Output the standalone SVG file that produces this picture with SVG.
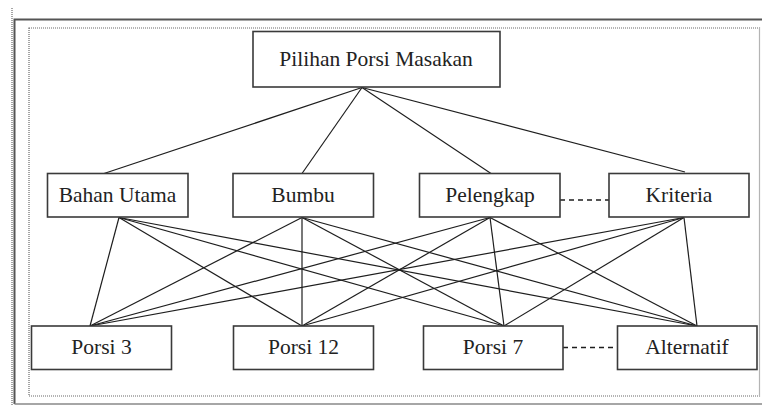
<svg xmlns="http://www.w3.org/2000/svg" width="762" height="405" viewBox="0 0 762 405">
  <style>
    .box { fill: #ffffff; stroke: #3a3a3a; stroke-width: 1.6; }
    .lbl { font-size: 21.5px; fill: #222; text-anchor: middle; }
    .edge { stroke: #1e1e1e; stroke-width: 1.2; fill: none; }
    .dash { stroke: #1e1e1e; stroke-width: 1.4; stroke-dasharray: 5 4; fill: none; }
    .dot { stroke: #6a6a6a; stroke-width: 1.2; stroke-dasharray: 1 1; fill: none; }
  </style>
  <rect x="0" y="0" width="762" height="405" fill="#ffffff"/>
  <g id="frame">
    <line class="dot" x1="12" y1="8" x2="12" y2="405"/>
    <polyline points="762,19.5 14.5,19.5 14.5,404" fill="none" stroke="#555" stroke-width="2"/>
    <line x1="14.5" y1="404" x2="762" y2="404" stroke="#888" stroke-width="1.5"/>
    <rect class="dot" x="29" y="28" width="730.5" height="368"/>
  </g>
  <g id="connectors">
    <line class="edge" x1="362" y1="87.5" x2="104" y2="173.5"/>
    <line class="edge" x1="362" y1="87.5" x2="302" y2="173.5"/>
    <line class="edge" x1="362" y1="87.5" x2="491" y2="173.5"/>
    <line class="edge" x1="362" y1="87.5" x2="685" y2="172"/>

    <line class="edge" x1="119" y1="217.5" x2="90" y2="326"/>
    <line class="edge" x1="119" y1="217.5" x2="302" y2="326"/>
    <line class="edge" x1="119" y1="217.5" x2="504" y2="326"/>
    <line class="edge" x1="119" y1="217.5" x2="697" y2="326"/>

    <line class="edge" x1="302" y1="217.5" x2="90" y2="326"/>
    <line class="edge" x1="302" y1="217.5" x2="302" y2="326"/>
    <line class="edge" x1="302" y1="217.5" x2="504" y2="326"/>
    <line class="edge" x1="302" y1="217.5" x2="697" y2="326"/>

    <line class="edge" x1="490" y1="217.5" x2="90" y2="326"/>
    <line class="edge" x1="490" y1="217.5" x2="302" y2="326"/>
    <line class="edge" x1="490" y1="217.5" x2="504" y2="326"/>
    <line class="edge" x1="490" y1="217.5" x2="697" y2="326"/>

    <line class="edge" x1="684" y1="217.5" x2="90" y2="326"/>
    <line class="edge" x1="684" y1="217.5" x2="302" y2="326"/>
    <line class="edge" x1="684" y1="217.5" x2="504" y2="326"/>
    <line class="edge" x1="684" y1="217.5" x2="697" y2="326"/>

    <line class="dash" x1="560" y1="200" x2="609" y2="200"/>
    <line class="dash" x1="563" y1="347.5" x2="617.5" y2="347.5"/>
  </g>
  <g font-family="'Liberation Serif', 'Times New Roman', serif">
  <g id="pilihan">
    <rect class="box" x="253" y="31.5" width="247" height="55.5"/>
    <text class="lbl" x="376" y="65.5">Pilihan Porsi Masakan</text>
  </g>
  <g id="bahan-utama">
    <rect class="box" x="47.5" y="173.5" width="140.5" height="43.5"/>
    <text class="lbl" x="117.5" y="202">Bahan Utama</text>
  </g>
  <g id="bumbu">
    <rect class="box" x="233" y="173.5" width="140.5" height="43.5"/>
    <text class="lbl" x="303" y="202">Bumbu</text>
  </g>
  <g id="pelengkap">
    <rect class="box" x="419.5" y="173.5" width="140.5" height="43.5"/>
    <text class="lbl" x="490" y="202">Pelengkap</text>
  </g>
  <g id="kriteria">
    <rect class="box" x="609" y="173.5" width="140" height="43.5"/>
    <text class="lbl" x="679" y="202">Kriteria</text>
  </g>
  <g id="porsi-3">
    <rect class="box" x="31.5" y="326" width="140" height="43.5"/>
    <text class="lbl" x="101.5" y="354">Porsi 3</text>
  </g>
  <g id="porsi-12">
    <rect class="box" x="233.5" y="326" width="140" height="43.5"/>
    <text class="lbl" x="303.5" y="354">Porsi 12</text>
  </g>
  <g id="porsi-7">
    <rect class="box" x="423.5" y="326" width="139.5" height="43.5"/>
    <text class="lbl" x="493" y="354">Porsi 7</text>
  </g>
  <g id="alternatif">
    <rect class="box" x="617.5" y="326" width="139.5" height="43.5"/>
    <text class="lbl" x="687" y="354">Alternatif</text>
  </g>
  </g>
</svg>
